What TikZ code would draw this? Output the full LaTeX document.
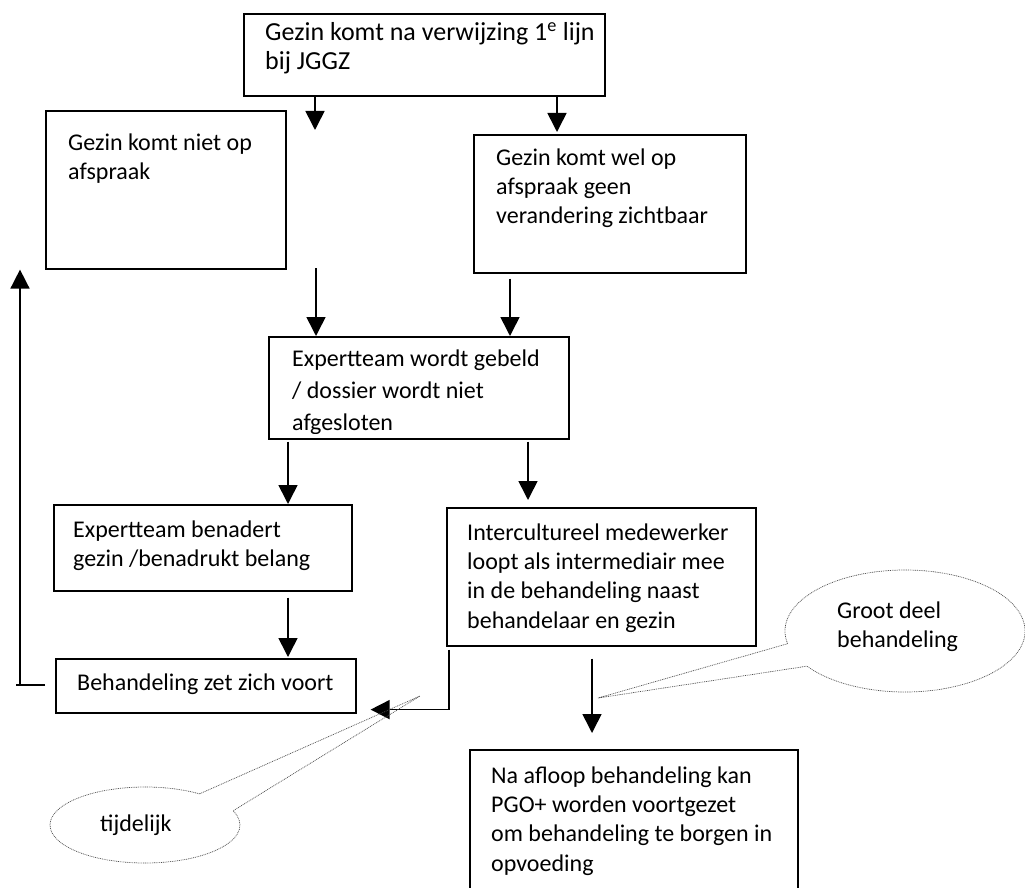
\documentclass[tikz,border=0pt]{standalone}
\usepackage{fontspec}
\setmainfont{Carlito}
\usetikzlibrary{arrows.meta,calc}
\newcommand{\fz}{\fontsize{24}{29.3}\selectfont}
\newcommand{\fzd}{\fontsize{24}{32}\selectfont}
\newcommand{\fzbig}{\fontsize{26}{29.5}\selectfont}
\newcommand{\mkbox}[5]{\node[boxs,minimum width=#4pt,minimum height=#5pt] (#1) at (#2,#3) {};}
\begin{document}
\begin{tikzpicture}[x=1pt,y=-1pt,
  boxs/.style={draw,line width=1.6pt,anchor=north west,inner sep=0pt},
  txtbase/.style={anchor=north west,inner sep=0pt,align=left},
  txt/.style={txtbase,font=\fz,yshift=20.51pt},
  arr/.style={line width=1.6pt,-{Triangle[width=19pt,length=19pt]}},
  ln/.style={line width=1.6pt},
  callout/.style={draw=black!70,line width=0.7pt,dash pattern=on 0.9pt off 0.9pt}]
\useasboundingbox (0,0) rectangle (1025,888);
% boxes
\mkbox{A}{243}{13}{361}{82}
\mkbox{B}{45}{110}{240}{158}
\mkbox{C}{473}{134}{272}{138}
\mkbox{D}{268}{336}{300}{102}
\mkbox{E}{53}{504}{298}{86}
\mkbox{F}{446}{507}{309}{138}
\mkbox{G}{55}{658}{300}{54}
\mkbox{H}{469}{749}{328}{200}
% texts
\node[txtbase,font=\fzbig,yshift=20.65pt] (At) at (265,40) {\strut Gezin komt na verwijzing 1\textsuperscript{e} lijn\\bij JGGZ};
\node[txt] (Bt) at (68,150) {\strut Gezin komt niet op\\afspraak};
\node[txt] (Ct) at (496,165) {\strut Gezin komt wel op\\afspraak geen\\verandering zichtbaar};
\begin{scope}
\clip (D.north west) rectangle ($(D.south east)+(0,-6)$);
\node[txtbase,font=\fzd,yshift=22.4pt] (Dt) at (292,366) {\strut Expertteam wordt gebeld\\/ dossier wordt niet\\afgesloten};
\end{scope}
\node[txt] (Et) at (73,537) {\strut Expertteam benadert\\gezin /benadrukt belang};
\node[txt] (Ft) at (467,540) {\strut Intercultureel medewerker\\loopt als intermediair mee\\in de behandeling naast\\behandelaar en gezin};
\node[txt] (Gt) at (77,690) {\strut Behandeling zet zich voort};
\node[txt] (Ht) at (491,783) {\strut Na afloop behandeling kan\\PGO+ worden voortgezet\\om behandeling te borgen in\\opvoeding};
% connectors
\draw[arr] ($(A.south west)+(72,0)$) -- ($(B.north west)+(270,20)$);
\draw[arr] ($(A.south west)+(314,0)$) -- ($(C.north west)+(84,-2)$);
\draw[arr] ($(D.north west)+(48,-68)$) -- ($(D.north west)+(48,0)$);
\draw[arr] ($(C.south west)+(37,5)$) -- ($(D.north west)+(242,0)$);
\draw[arr] ($(D.south west)+(20,2)$) -- ($(E.north west)+(235,0)$);
\draw[arr] ($(D.south west)+(260,2)$) -- ($(F.north west)+(82,-7)$);
\draw[arr] ($(E.south west)+(235,6)$) -- ($(G.north west)+(233,-1)$);
\draw[ln] ($(G.west)+(-10,-1)$) -- ($(G.west)+(-39,-1)$);
\draw[arr] ($(G.west)+(-35,-1)$) -- ($(B.south west)+(-25,0)$);
\draw[arr] ($(F.south west)+(3,3)$) |- ($(G.south east)+(14,-4)$);
\draw[arr] ($(F.south west)+(146,12)$) -- ($(H.north west)+(123,-16)$);
% callout 1
\draw[callout] (905,631) ++(168:120 and 61) coordinate (c1a)
  arc[start angle=168,end angle=504.8,x radius=120,y radius=61] coordinate (c1b)
  -- (598,698) coordinate (c1tip) -- (c1a);
\node[txt] (K1) at (837,618) {\strut Groot deel\\behandeling};
% callout 2
\draw[callout] (145,825) ++(305:95 and 38) coordinate (c2a)
  arc[start angle=305,end angle=-22,x radius=95,y radius=38] coordinate (c2b)
  -- (420,696) coordinate (c2tip) -- (c2a);
\node[txt] (K2) at (100,831) {\strut tijdelijk};
\end{tikzpicture}
\end{document}
